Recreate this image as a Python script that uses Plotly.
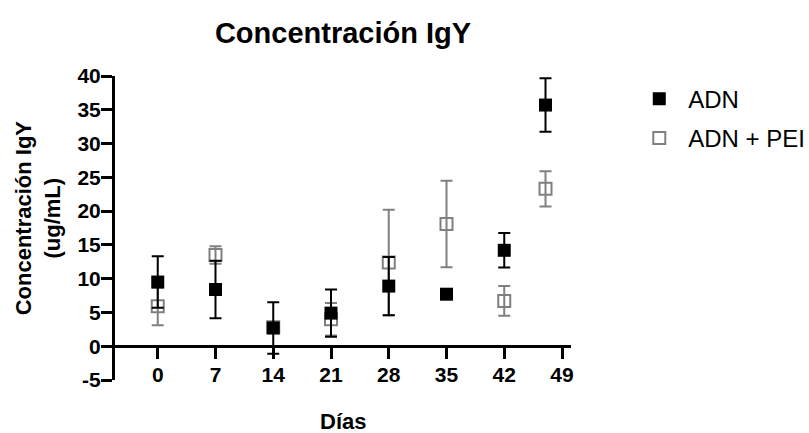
import plotly.graph_objects as go

days = [0, 7, 14, 21, 28, 35, 42, 47]
adn_mean = [9.5, 8.4, 2.7, 4.9, 8.9, 7.7, 14.2, 35.7]
adn_err = [3.8, 4.25, 3.8, 3.5, 4.3, 0.0, 2.55, 3.95]
pei_mean = [5.9, 13.5, 2.8, 4.0, 12.4, 18.1, 6.7, 23.3]
pei_err = [2.8, 1.3, 0.8, 2.4, 7.8, 6.4, 2.2, 2.6]
x_ticks = [0, 7, 14, 21, 28, 35, 42, 49]
y_ticks = [-5, 0, 5, 10, 15, 20, 25, 30, 35, 40]

FONT = "Arial, Liberation Sans, Helvetica, sans-serif"
GRAY = "#808080"

fig = go.Figure()
fig.add_trace(go.Scatter(
    x=days, y=pei_mean, mode="markers", name="ADN + PEI", legendgroup="b",
    marker=dict(symbol="square-open", size=12, color=GRAY, line=dict(width=2, color=GRAY)),
    error_y=dict(type="data", array=pei_err, visible=True, color=GRAY, thickness=2, width=6),
    legendrank=2,
))
fig.add_trace(go.Scatter(
    x=days, y=adn_mean, mode="markers", name="ADN", legendgroup="a",
    marker=dict(symbol="square", size=13, color="black"),
    error_y=dict(type="data", array=adn_err, visible=True, color="black", thickness=2, width=6),
    legendrank=1,
))

y0, y1 = -5, 40
fig.update_layout(
    width=809, height=433,
    margin=dict(l=115, r=238, t=76, b=53, autoexpand=False),
    paper_bgcolor="white", plot_bgcolor="white",
    font=dict(family=FONT, color="black"),
    title=dict(text="<b>Concentración IgY</b>", x=0.5, xref="paper", y=0.925, yref="container",
               xanchor="center", yanchor="middle", font=dict(size=29, family=FONT, color="black")),
    showlegend=True,
    legend=dict(x=1.130, y=0.998, xanchor="left", yanchor="top", font=dict(size=24, family=FONT),
                tracegroupgap=5, itemwidth=48, bgcolor="rgba(0,0,0,0)"),
    xaxis=dict(range=[-5.18, 50.09], tickvals=x_ticks, ticktext=[str(v) for v in x_ticks],
               showgrid=False, zeroline=False, showline=True, linecolor="black", linewidth=3,
               ticks="outside", ticklen=11, tickwidth=3, tickcolor="black",
               anchor="free", position=(0 - y0) / (y1 - y0), automargin=False,
               tickfont=dict(size=21, family=FONT, color="black", weight="bold"),
               ticklabelstandoff=-2),
    yaxis=dict(range=[y0, y1], tickvals=y_ticks, ticktext=[str(v) for v in y_ticks],
               showgrid=False, zeroline=False, showline=True, linecolor="black", linewidth=3,
               ticks="outside", ticklen=11, tickwidth=3, tickcolor="black", automargin=False,
               tickfont=dict(size=21, family=FONT, color="black", weight="bold"),
               ticklabelstandoff=-4),
    annotations=[
        dict(text="<b>Concentración IgY<br>(ug/mL)</b>", xref="paper", yref="paper",
             x=-0.168, y=0.533, xanchor="center", yanchor="middle", textangle=-90,
             showarrow=False, font=dict(size=22, family=FONT, color="black")),
        dict(text="<b>Días</b>", xref="paper", yref="paper", x=0.5, y=-0.138,
             xanchor="center", yanchor="middle", showarrow=False,
             font=dict(size=22, family=FONT, color="black")),
    ],
)
fig.write_html("out.html")
